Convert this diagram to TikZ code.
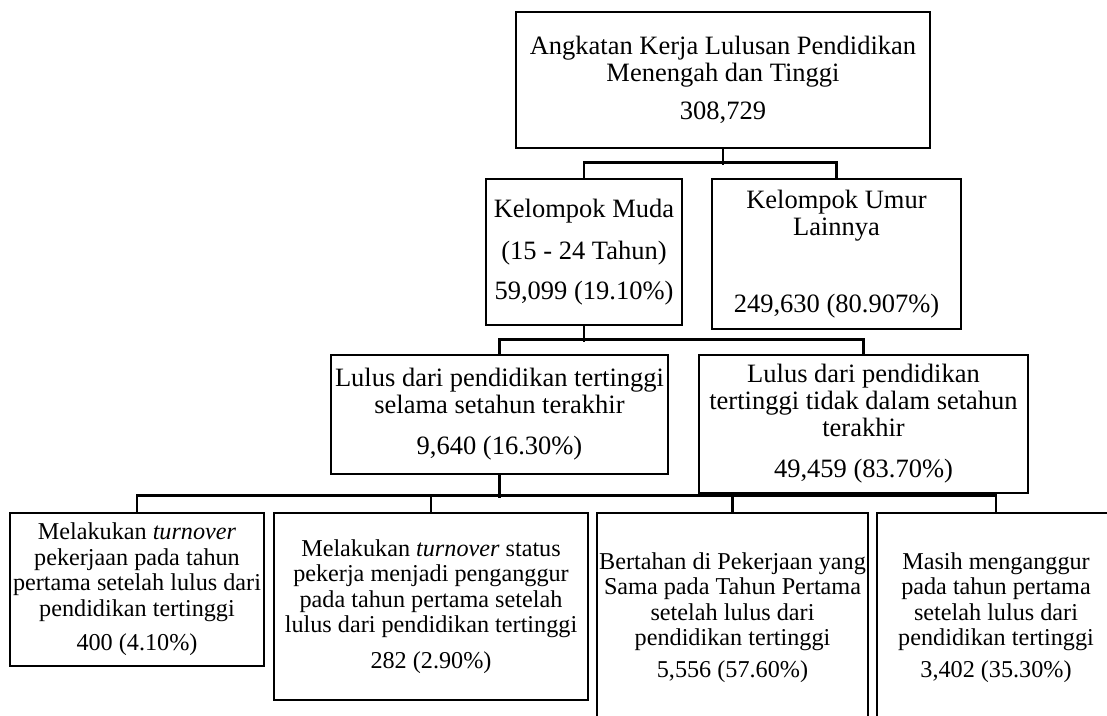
\documentclass[tikz,border=0pt]{standalone}
\usepackage{fontspec}
\setmainfont{Liberation Serif}
\newcommand{\besar}{\fontsize{26.5}{27}\selectfont}
\newcommand{\kecil}{\fontsize{24.2}{25.5}\selectfont}
\begin{document}
\begin{tikzpicture}[x=1pt,y=-1pt]
		\tikzset{kotak/.style = {shape=rectangle, draw, line width=2.8pt, align=center, inner sep=0pt, font=\besar},
		kotakkecil/.style = {kotak, font=\kecil},
		garis/.style = {line width=2.8pt}}

		\useasboundingbox (0,0) rectangle (1107,715);
		\clip (0,0) rectangle (1107,715);

		\node[kotak, minimum width=414pt, minimum height=136pt] (K_0) at (723,80) {Angkatan Kerja Lulusan Pendidikan\\Menengah dan Tinggi\\[11pt]308,729};

		\node[kotak, minimum width=196pt, minimum height=146pt] (K_1) at (584,252) {Kelompok Muda\\[15pt](15 - 24 Tahun)\\[13pt]59,099 (19.10\%)};
		\node[kotak, minimum width=249pt, minimum height=150pt] (K_2) at (836.5,254) {Kelompok Umur\\Lainnya\\[50pt]249,630 (80.907\%)};

		\node[kotak, minimum width=337pt, minimum height=119pt] (K_3) at (499.5,414.5) {Lulus dari pendidikan tertinggi\\selama setahun terakhir\\[14pt]9,640 (16.30\%)};
		\node[kotak, minimum width=329pt, minimum height=138pt] (K_4) at (863.5,424) {Lulus dari pendidikan\\tertinggi tidak dalam setahun\\terakhir\\[14pt]49,459 (83.70\%)};

		\node[kotakkecil, minimum width=254pt, minimum height=153pt] (K_5) at (137,589.5) {Melakukan \textit{turnover}\\pekerjaan pada tahun\\pertama setelah lulus dari\\pendidikan tertinggi\\[9pt]400 (4.10\%)};
		\node[kotakkecil, minimum width=314pt, minimum height=187pt] (K_6) at (431,606.5) {Melakukan \textit{turnover} status\\pekerja menjadi penganggur\\pada tahun pertama setelah\\lulus dari pendidikan tertinggi\\[10pt]282 (2.90\%)};
		\node[kotakkecil, minimum width=271pt, minimum height=209pt] (K_7) at (732.5,617.5) {Bertahan di Pekerjaan yang\\Sama pada Tahun Pertama\\setelah lulus dari\\pendidikan tertinggi\\[6pt]5,556 (57.60\%)};
		\node[kotakkecil, minimum width=238pt, minimum height=209pt] (K_8) at (996,617.5) {Masih menganggur\\pada tahun pertama\\setelah lulus dari\\pendidikan tertinggi\\[6pt]3,402 (35.30\%)};

		\draw[garis] (K_0.south) -- ++(0,16);
		\draw[garis] (K_1.north) -- ++(0,-15) -| (K_2.north);

		\draw[garis] (K_1.south) -- ++(0,16);
		\draw[garis] (K_3.north) -- ++(0,-14) -| (K_4.north);

		\draw[garis] (K_3.south) -- ++(0,23);
		\draw[garis] (K_5.north) -- ++(0,-16) -| (K_8.north);
		\draw[garis] (K_6.north) -- ++(0,-16);
		\draw[garis] (K_7.north) -- ++(0,-16);

	\end{tikzpicture}
\end{document}
